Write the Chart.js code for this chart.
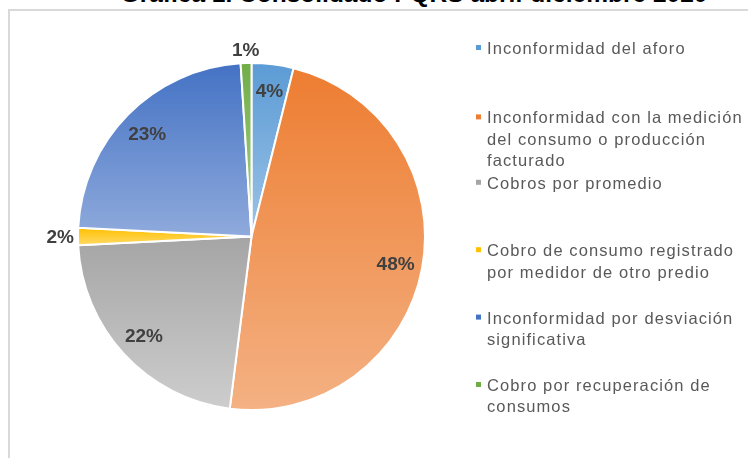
<!DOCTYPE html>
<html>
<head>
<meta charset="utf-8">
<script src="https://cdn.jsdelivr.net/npm/chart.js@4/dist/chart.umd.min.js"></script>
<style>
html,body{margin:0;padding:0;background:#fff;overflow:hidden}
#wrap{position:relative;width:748px;height:458px;overflow:hidden}
#frame{position:absolute;left:8px;top:9px;width:800px;height:500px;border-top:2px solid #D9D9D9;border-left:2px solid #D9D9D9;box-sizing:border-box}
#title{position:absolute;left:0;width:828px;top:-20px;text-align:center;font:bold 24.5px "Liberation Sans",Arial,sans-serif;line-height:28px;color:#000;white-space:nowrap}
canvas{position:absolute;left:0;top:0}
</style>
</head>
<body>
<div id="wrap">
  <div id="frame"></div>
  <div id="title"></div>
  <canvas id="c" width="748" height="458"></canvas>
</div>
<script>
const titleText = 'Gráfica 1. Consolidado PQRS abril-diciembre 2020';
const categories = [
  'Inconformidad del aforo',
  'Inconformidad con la medición del consumo o producción facturado',
  'Cobros por promedio',
  'Cobro de consumo registrado por medidor de otro predio',
  'Inconformidad por desviación significativa',
  'Cobro por recuperación de consumos'
];
const shares = [3.9, 48.1, 22.2, 1.6, 23.2, 1.0];
const topColors = ['#5B9BD5', '#ED7D31', '#A5A5A5', '#FFC000', '#4472C4', '#70AD47'];
const bottomColors = ['#9DC3E6', '#F4B183', '#CDCDCD', '#FFD966', '#8FAADC', '#A9D18E'];

document.getElementById('title').textContent = titleText;

function sliceGradient(ctx) {
  const chart = ctx.chart, i = ctx.dataIndex;
  const area = chart.chartArea;
  if (!area || i === undefined) return topColors[i || 0];
  const meta = chart.getDatasetMeta(0);
  const r = (meta.controller && meta.controller.outerRadius) || Math.min(area.right - area.left, area.bottom - area.top) / 2;
  const cx = (area.left + area.right) / 2, cy = (area.top + area.bottom) / 2;
  const total = shares.reduce((a, b) => a + b, 0);
  let before = 0;
  for (let k = 0; k < i; k++) before += shares[k];
  const a0 = -Math.PI / 2 + before / total * 2 * Math.PI;
  const a1 = a0 + shares[i] / total * 2 * Math.PI;
  let minY = cy, maxY = cy;
  for (let s = 0; s <= 64; s++) {
    const a = a0 + (a1 - a0) * s / 64;
    const y = cy + r * Math.sin(a);
    minY = Math.min(minY, y); maxY = Math.max(maxY, y);
  }
  if (maxY - minY < 1) maxY = minY + 1;
  const g = chart.ctx.createLinearGradient(0, minY, 0, maxY);
  g.addColorStop(0, topColors[i]);
  g.addColorStop(1, bottomColors[i]);
  return g;
}

const pctLabels = {
  id: 'pctLabels',
  afterDatasetsDraw(chart) {
    const ctx = chart.ctx;
    const meta = chart.getDatasetMeta(0);
    const data = chart.data.datasets[0].data;
    const total = data.reduce((a, b) => a + b, 0);
    ctx.save();
    ctx.font = 'bold 19px "Liberation Sans", Arial, sans-serif';
    ctx.fillStyle = '#404040';
    ctx.textAlign = 'center';
    ctx.textBaseline = 'middle';
    meta.data.forEach((el, i) => {
      const pct = data[i] / total * 100;
      const txt = Math.round(pct) + '%';
      const mid = (el.startAngle + el.endAngle) / 2;
      const c = Math.cos(mid), s = Math.sin(mid);
      let r;
      if (pct >= 3) {
        r = el.outerRadius * 0.845;
      } else {
        const w = ctx.measureText(txt).width;
        r = el.outerRadius + 4 + Math.abs(c) * w / 2 + Math.abs(s) * 9;
      }
      ctx.fillText(txt, el.x + c * r, el.y + s * r + 1);
    });
    ctx.restore();
  }
};

const sideLegend = {
  id: 'sideLegend',
  afterDraw(chart) {
    const ctx = chart.ctx;
    const labels = chart.data.labels;
    const x0 = 487, maxW = 748 - 487, lineH = 21.3, firstBase = 54, slot = 67.4;
    ctx.save();
    ctx.font = '16.5px "Liberation Sans", Arial, sans-serif';
    if ('letterSpacing' in ctx) ctx.letterSpacing = '1.1px';
    ctx.textBaseline = 'alphabetic';
    ctx.textAlign = 'left';
    labels.forEach((lab, i) => {
      const words = lab.split(' ');
      const lines = [];
      let cur = '';
      words.forEach(w => {
        const test = cur ? cur + ' ' + w : w;
        if (ctx.measureText(test).width > maxW && cur) { lines.push(cur); cur = w; }
        else cur = test;
      });
      if (cur) lines.push(cur);
      const base = firstBase + i * slot + (i === 1 ? 2 : 0);
      ctx.fillStyle = topColors[i];
      ctx.fillRect(476, base - 9, 5, 5);
      ctx.fillStyle = '#595959';
      lines.forEach((ln, j) => ctx.fillText(ln, x0, base + j * lineH));
    });
    ctx.restore();
  }
};

new Chart(document.getElementById('c'), {
  type: 'pie',
  data: {
    labels: categories,
    datasets: [{
      data: shares,
      backgroundColor: sliceGradient,
      borderColor: '#FFFFFF',
      borderWidth: 2
    }]
  },
  options: {
    responsive: false,
    animation: false,
    events: [],
    layout: { padding: { left: 77, right: 322, top: 62, bottom: 47 } },
    plugins: {
      legend: { display: false },
      tooltip: { enabled: false },
      title: { display: false }
    }
  },
  plugins: [pctLabels, sideLegend]
});
</script>
</body>
</html>
